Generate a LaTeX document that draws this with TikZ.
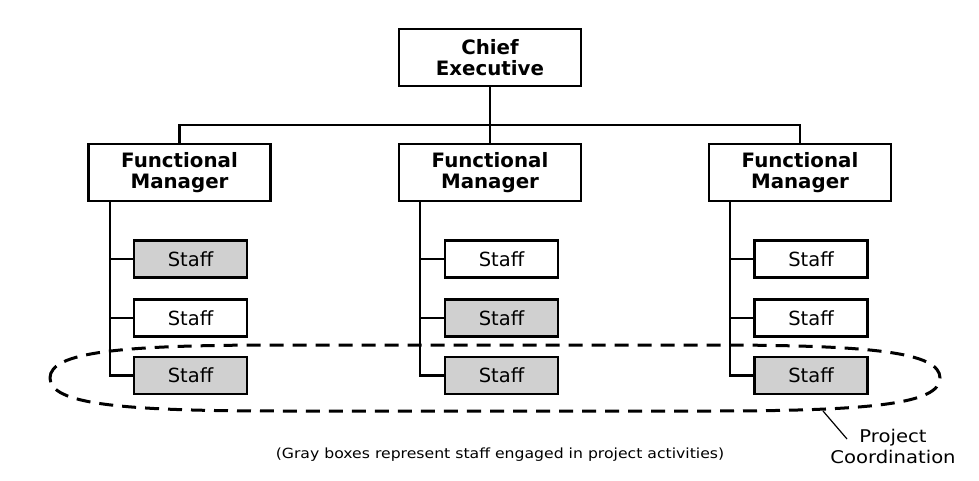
\documentclass[tikz,border=0pt]{standalone}
\usepackage{fontspec}
\setmainfont{DejaVu Sans}
\newfontfamily\widefont[FakeStretch=1.12]{DejaVu Sans}
\usetikzlibrary{calc}
\definecolor{staffgray}{HTML}{D0D0D0}
\begin{document}
\begin{tikzpicture}[x=1pt,y=-1pt,
  mgr/.style={draw,line width=2.6pt,minimum width=182pt,minimum height=57pt,align=center,font=\bfseries\fontsize{19.8}{21.5}\selectfont,inner sep=0pt},
  staffbox/.style={draw,line width=2.6pt,minimum width=113pt,minimum height=37pt,font=\fontsize{19.5}{22}\selectfont,inner sep=0pt},
  grayb/.style={staffbox,fill=staffgray},
  conn/.style={line width=2.4pt}]
\useasboundingbox (0,0) rectangle (979,481);
\node[mgr] (ce) at (490,57.5) {Chief\\Executive};
\node[mgr] (m1) at (179.5,172.5) {Functional\\Manager};
\node[mgr] (m2) at (490,172.5) {Functional\\Manager};
\node[mgr] (m3) at (800,172.5) {Functional\\Manager};
\coordinate (bus) at (490,125);
\draw[conn] (ce.south) -- (bus);
\draw[conn] (m1.north) |- (bus) -| (m3.north);
\draw[conn] (bus) -- (m2.north);
% staff
\node[grayb] (s11) at (190.5,259) {Staff};
\node[staffbox] (s12) at (190.5,318) {Staff};
\node[grayb] (s13) at (190.5,375.5) {Staff};
\node[staffbox] (s21) at (501.5,259) {Staff};
\node[grayb] (s22) at (501.5,318) {Staff};
\node[grayb] (s23) at (501.5,375.5) {Staff};
\node[staffbox] (s31) at (811,259) {Staff};
\node[staffbox] (s32) at (811,318) {Staff};
\node[grayb] (s33) at (811,375.5) {Staff};
\foreach \m/\x in {1/110,2/420,3/730}{
  \draw[conn] (\x,202) |- (s\m3.west);
  \draw[conn] (\x,259) -- (s\m1.west);
  \draw[conn] (\x,318) -- (s\m2.west);
}
% project coordination outline
\draw[dash pattern=on 14pt off 9pt,line width=3pt]
  (50,378) .. controls (50,352) and (120,345) .. (280,345) -- (710,345)
  .. controls (870,345) and (940,352) .. (940,378)
  .. controls (940,404) and (870,411) .. (710,411) -- (280,411)
  .. controls (120,411) and (50,404) .. (50,378) -- cycle;
\coordinate (lead) at (823,411);
\node[font=\widefont\fontsize{17.5}{21}\selectfont,align=center] (pclab) at (893,446) {Project\\Coordination};
\draw[line width=1.2pt] (lead) -- (847,439);
\node[font=\widefont\fontsize{14}{16}\selectfont] (cap) at (500,455) {(Gray boxes represent staff engaged in project activities)};
\end{tikzpicture}
\end{document}
